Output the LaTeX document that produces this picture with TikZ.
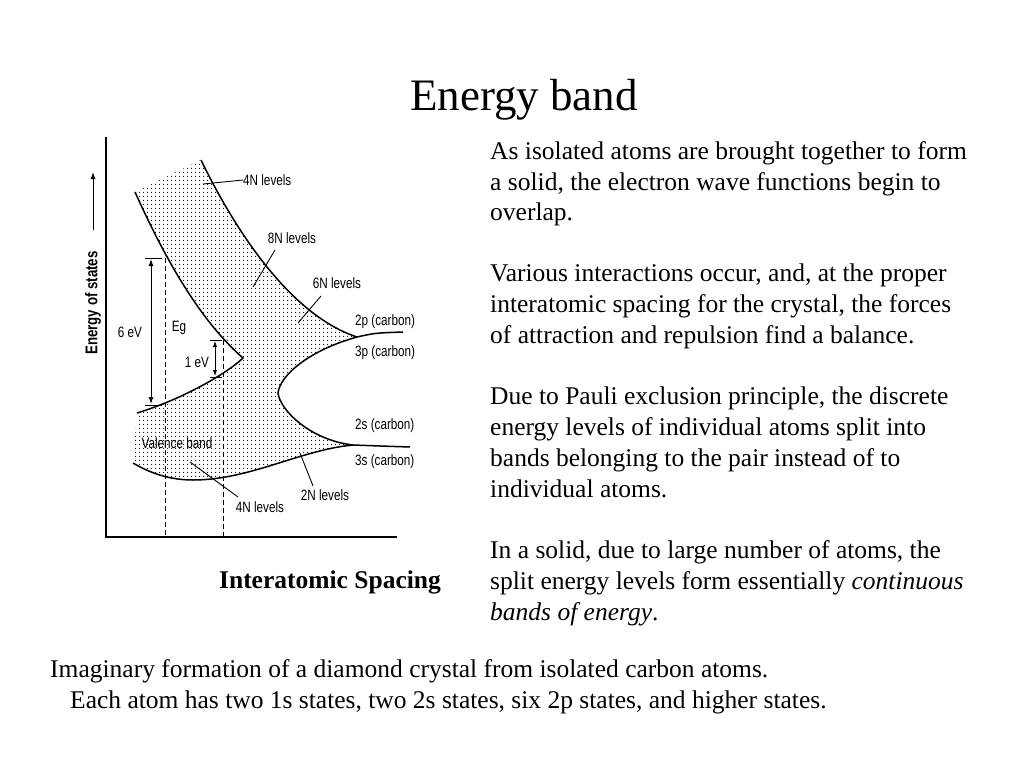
\documentclass[tikz,border=0pt]{standalone}
\usepackage{fontspec}
\setmainfont{Liberation Serif}
\newfontfamily\figfont[FakeStretch=0.78]{Liberation Sans}
\usetikzlibrary{patterns.meta,arrows.meta}
\begin{document}
\begin{tikzpicture}[x=1pt,y=-1pt,
  txt/.style={anchor=base west,inner sep=0pt,font=\fontsize{25.5}{31}\selectfont},
  lab/.style={inner sep=0pt,font=\figfont\fontsize{15}{17}\selectfont},
  crv/.style={line width=1.5pt},
  ldr/.style={line width=0.9pt},
  dsh/.style={line width=1pt,dash pattern=on 5pt off 3pt}]
\useasboundingbox (0,0) rectangle (1024,768);
\node[inner sep=0pt,font=\fontsize{45}{50}\selectfont] (title) at (524,100) {Energy band};
% filled band region
\fill[pattern={Dots[distance=4pt,radius=0.8pt]}]
 (135,192) .. controls (170,270) and (205,325) .. (243,358)
 .. controls (225,375) and (180,400) .. (137,413) -- (133,463)
 .. controls (145,470) and (165,480) .. (193,480)
 .. controls (250,480) and (300,450) .. (353,445)
 .. controls (310,440) and (280,410) .. (278,393)
 .. controls (280,375) and (310,350) .. (357,337)
 .. controls (290,315) and (235,230) .. (201,160) -- cycle;
% curves
\draw[crv] (135,192) .. controls (170,270) and (205,325) .. (243,358)
 .. controls (225,375) and (180,400) .. (137,413);
\draw[crv] (201,160) .. controls (235,230) and (290,315) .. (357,337)
 .. controls (375,333) .. (403,332);
\draw[crv] (357,337) .. controls (310,350) and (280,375) .. (278,393)
 .. controls (280,410) and (310,440) .. (353,445) .. controls (380,446) .. (410,447);
\draw[crv] (353,445) .. controls (300,450) and (250,480) .. (193,480)
 .. controls (165,480) and (145,470) .. (133,463);
% axes
\coordinate (o) at (106,537);
\draw[line width=1.5pt] (106,137) -- (o) -- (397,537);
% dashed
\draw[dsh] (165,258) -- (165,537);
\draw[dsh] (223,340) -- (223,537);
% arrows
\draw[line width=1pt] (145,258) -- (162,258) (145,405) -- (162,405);
\draw[line width=1pt,{Latex[length=7pt,width=5pt]}-{Latex[length=7pt,width=5pt]}] (151,259) -- (151,404);
\draw[line width=1pt] (210,340) -- (222,340) (210,377) -- (222,377);
\draw[line width=1pt,{Latex[length=6pt,width=4.5pt]}-{Latex[length=6pt,width=4.5pt]}] (215,341) -- (215,376);
% labels
\node[lab] (l6) at (130,332) {6 eV};
\node[lab] (eg) at (179,328) {Eg};
\node[lab] (l1) at (197,362) {1 eV};
\node[lab,anchor=west] (n4a) at (243,180) {4N levels};
\draw[ldr] (203,184) -- (n4a.west);
\node[lab] (n8) at (292,238) {8N levels};
\draw[ldr] (275,250) -- (253,287);
\node[lab] (n6) at (337,283) {6N levels};
\draw[ldr] (321,296) -- (298,323);
\node[lab,anchor=west] (p2) at (355,322) {2p (carbon)};
\node[lab,anchor=west] (p3) at (355,353) {3p (carbon)};
\node[lab,anchor=west] (s2) at (355,426) {2s (carbon)};
\node[lab,anchor=west] (s3) at (355,462) {3s (carbon)};
\node[lab] (vb) at (177,443) {Valence band};
\node[lab] (n4b) at (260,507) {4N levels};
\draw[ldr] (238,497) -- (190,462);
\node[lab] (n2) at (325,495) {2N levels};
\draw[ldr] (313,486) -- (300,453);
\node[lab,rotate=90,font=\figfont\bfseries\fontsize{17}{19}\selectfont] (en) at (93,303) {Energy of states};
\draw[line width=1pt,-{Latex[length=7pt,width=5pt]}] (93,230) -- (93,172);
% right text
\node[txt] (t1) at (490,159) {As isolated atoms are brought together to form};
\node[txt] at (490,190) {a solid, the electron wave functions begin to};
\node[txt] at (490,220) {overlap.};
\node[txt] at (490,281) {Various interactions occur, and, at the proper};
\node[txt] at (490,312) {interatomic spacing for the crystal, the forces};
\node[txt] at (490,343) {of attraction and repulsion find a balance.};
\node[txt] at (490,404) {Due to Pauli exclusion principle, the discrete};
\node[txt] at (490,435) {energy levels of individual atoms split into};
\node[txt] at (490,466) {bands belonging to the pair instead of to};
\node[txt] at (490,497) {individual atoms.};
\node[txt] at (490,558) {In a solid, due to large number of atoms, the};
\node[txt] at (490,589) {split energy levels form essentially \textit{continuous}};
\node[txt] at (490,620) {\textit{bands of energy}.};
\node[inner sep=0pt,font=\bfseries\fontsize{25.5}{30}\selectfont] (ia) at (330,582) {Interatomic Spacing};
\node[txt] (c1) at (50,677) {Imaginary formation of a diamond crystal from isolated carbon atoms.};
\node[txt] (c2) at (70,708) {Each atom has two 1s states, two 2s states, six 2p states, and higher states.};
\end{tikzpicture}
\end{document}
